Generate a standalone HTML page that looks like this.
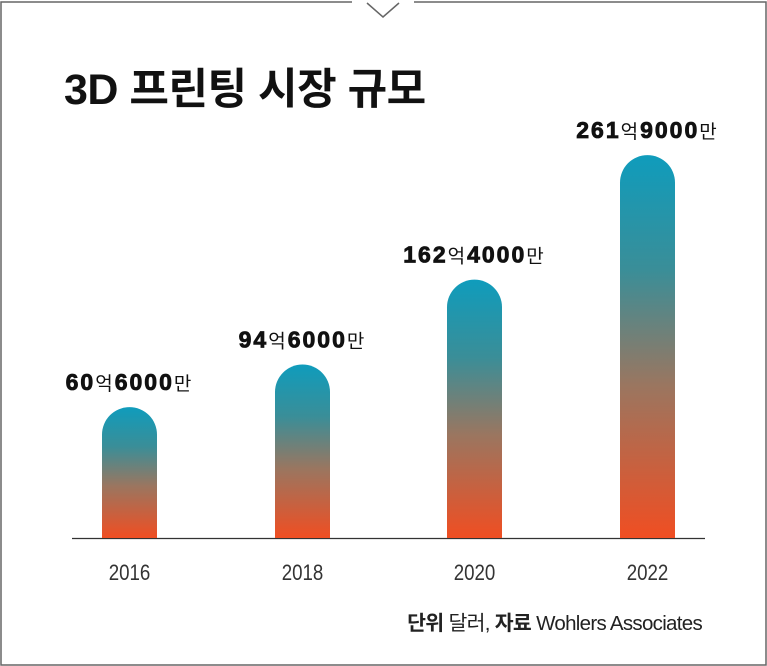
<!DOCTYPE html>
<html><head><meta charset="utf-8"><style>
body{margin:0;background:#fff;}
#wrap{position:relative;width:767px;height:666px;overflow:hidden;font-family:"Liberation Sans","Noto Sans CJK KR",sans-serif;}
</style></head><body>
<div id="wrap">
<svg id="chart" width="767" height="666">
<defs><linearGradient id="g" x1="0" y1="0" x2="0" y2="1">
<stop offset="0" stop-color="#0f9cbc"/><stop offset="0.3" stop-color="#3a8e98"/><stop offset="0.6" stop-color="#9a7660"/><stop offset="1" stop-color="#f04e22"/></linearGradient></defs>
<g fill="none" stroke="#666" stroke-width="1.5">
<path d="M352 2 H1 V665 H766 V2 H414"/>
<path d="M367 3 L383 17 L399 3"/>
</g>
<text x="64" y="104" font-size="43" font-weight="bold" fill="#111" letter-spacing="-0.5">3D 프린팅 시장 규모</text>
<line x1="72" y1="538.5" x2="705" y2="538.5" stroke="#333" stroke-width="1.2"/>
<g id="bars"></g>
<text x="702" y="630" text-anchor="end" font-size="20.5" fill="#222" letter-spacing="-0.7"><tspan font-weight="bold">단위</tspan> 달러, <tspan font-weight="bold">자료</tspan> Wohlers Associates</text>
</svg>
</div>
<script>
const categories=["2016","2018","2020","2022"];
const values=[60.6,94.6,162.4,261.9];
const valueNums=["60","94","162","261"];
const valueMan=["6000","6000","4000","9000"];
const centers=[129.5,302.5,474.5,647.5];
const base=538, bw=55;
function yh(v){return 55+1.252*v;}
const g=document.getElementById('bars');
const NS="http://www.w3.org/2000/svg";
categories.forEach((c,i)=>{
  const h=yh(values[i]), x=centers[i]-bw/2, top=base-h, r=bw/2;
  const p=document.createElementNS(NS,'path');
  p.setAttribute('d',`M${x} ${base} V${top+r} A${r} ${r} 0 0 1 ${x+bw} ${top+r} V${base} Z`);
  p.setAttribute('fill','url(#g)');
  
  
  g.appendChild(p);
  const t=document.createElementNS(NS,'text');
  t.setAttribute('x',centers[i]);t.setAttribute('y',top-17);
  t.setAttribute('text-anchor','middle');t.setAttribute('font-size','23');t.setAttribute('fill','#111');
  t.setAttribute('letter-spacing','2');t.setAttribute('stroke','#111');t.setAttribute('stroke-width','0.8');
  t.innerHTML=`<tspan font-weight="900">${valueNums[i]}</tspan><tspan font-size="19" stroke-width="0">억</tspan><tspan font-weight="900">${valueMan[i]}</tspan><tspan font-size="19" stroke-width="0">만</tspan>`;
  
  
  g.appendChild(t);
  const l=document.createElementNS(NS,'text');
  l.setAttribute('x',centers[i]);l.setAttribute('y',580);
  l.setAttribute('text-anchor','middle');l.setAttribute('font-size','22');l.setAttribute('fill','#333');
  l.setAttribute('transform',`translate(${centers[i]},0) scale(0.85,1) translate(${-centers[i]},0)`);
  l.textContent=c;
  
  
  g.appendChild(l);
});
</script>
</body></html>
